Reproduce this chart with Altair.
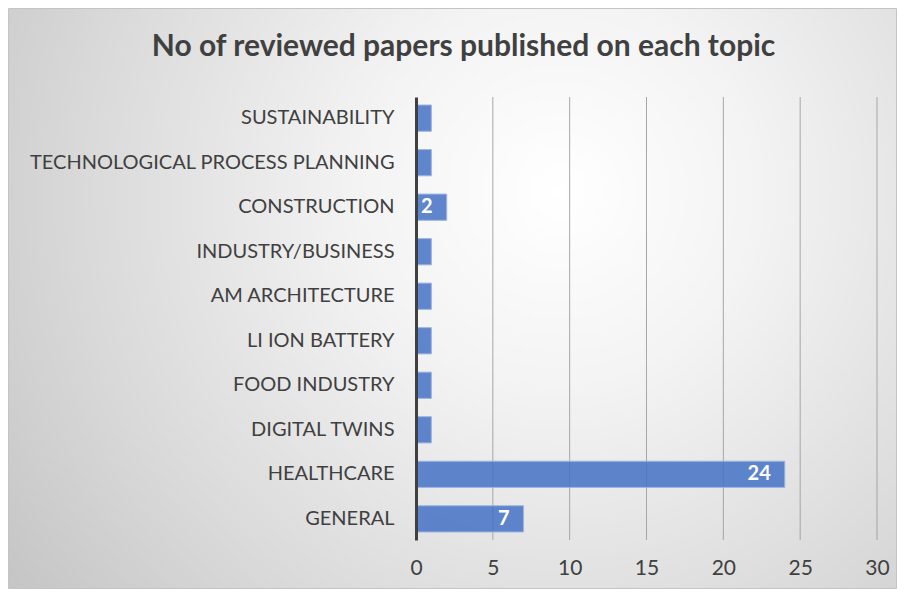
import altair as alt
import pandas as pd

categories = [
    "SUSTAINABILITY",
    "TECHNOLOGICAL PROCESS PLANNING",
    "CONSTRUCTION",
    "INDUSTRY/BUSINESS",
    "AM ARCHITECTURE",
    "LI ION BATTERY",
    "FOOD INDUSTRY",
    "DIGITAL TWINS",
    "HEALTHCARE",
    "GENERAL",
]
counts = [1, 1, 2, 1, 1, 1, 1, 1, 24, 7]
x_ticks = [0, 5, 10, 15, 20, 25, 30]

df = pd.DataFrame({"topic": categories, "count": counts})
grid_df = pd.DataFrame({"tick": x_ticks[1:]})
bg_df = pd.DataFrame({"k": [0]})

W, H = 461, 443
PL, PT = 408, 89
TOTAL_W, TOTAL_H = 889, 581

x_scale = alt.Scale(domain=[0, 30], nice=False)
y_scale = alt.Scale(paddingInner=0.41, paddingOuter=0.18)
FONT = "Lato"
TXT = "#404040"

x_axis = alt.Axis(
    values=x_ticks, grid=False, domain=False, ticks=False,
    labelFont=FONT, labelFontSize=21, labelColor=TXT, labelFlush=False,
    labelPadding=17, title=None, zindex=1,
)

bg = alt.Chart(bg_df).mark_rect(
    fill=alt.RadialGradient(
        gradient="radial",
        stops=[
            alt.GradientStop(color="#ffffff", offset=0),
            alt.GradientStop(color="#f3f3f3", offset=0.3),
            alt.GradientStop(color="#d9d9d9", offset=0.72),
            alt.GradientStop(color="#c6c6c6", offset=1),
        ],
        x1=0.62, y1=0.38, r1=0,
        x2=0.62, y2=0.38, r2=0.75,
    ),
    stroke="#c4c4c4",
    strokeWidth=1,
).encode(
    x=alt.value(-PL + 0.5),
    x2=alt.value(TOTAL_W - PL - 0.5),
    y=alt.value(-PT + 0.5),
    y2=alt.value(TOTAL_H - PT - 0.5),
)

grid = alt.Chart(grid_df).mark_rule(color="#9a9a9a", strokeWidth=1, opacity=0.85).encode(
    x=alt.X("tick:Q", scale=x_scale, axis=x_axis),
)

bars = alt.Chart(df).mark_bar(
    color="#4472c4", fillOpacity=0.85, stroke="#9fb6e2", strokeWidth=1
).encode(
    x=alt.X("count:Q", scale=x_scale, axis=x_axis),
    y=alt.Y(
        "topic:N",
        sort=categories,
        scale=y_scale,
        axis=alt.Axis(
            title=None, labelFont=FONT, labelFontSize=20, labelColor=TXT,
            labelPadding=22, ticks=False, domainColor=TXT, domainWidth=3,
            zindex=1, labelLimit=420,
        ),
    ),
)

labels = alt.Chart(df).transform_filter("datum.count > 1").mark_text(
    align="right", baseline="middle", dx=-14, color="white",
    fontWeight="bold", font=FONT, fontSize=20,
).encode(
    x=alt.X("count:Q", scale=x_scale, axis=x_axis),
    y=alt.Y("topic:N", sort=categories, scale=y_scale),
    text="count:Q",
)

chart = alt.layer(bg, grid, bars, labels).properties(
    width=W,
    height=H,
    padding={"left": PL, "top": PT, "right": TOTAL_W - PL - W, "bottom": TOTAL_H - PT - H},
    autosize=alt.AutoSizeParams(type="none"),
    title=alt.Title(
        "No of reviewed papers published on each topic",
        font=FONT, fontSize=30, fontWeight="bold", color=TXT,
        anchor="middle", frame="group", dx=-183, offset=0, dy=54,
    ),
).configure_view(stroke=None).configure(background="white")

chart.save("out.html", embed_options={"renderer": "svg", "actions": False})
